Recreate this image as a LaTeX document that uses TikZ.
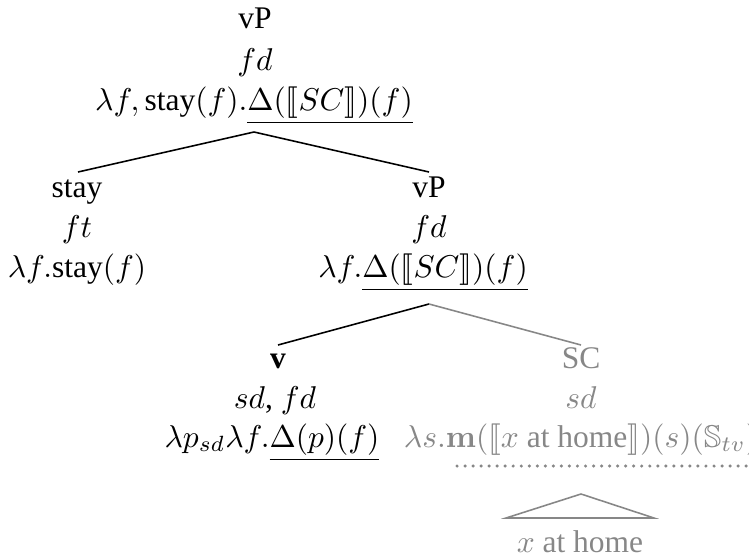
\documentclass[tikz,border=0pt]{standalone}
\usepackage{amsmath}
\usepackage{amssymb}
\usepackage{stmaryrd}
\usepackage[no-math]{fontspec}
\setmainfont{Liberation Serif}
\definecolor{scgray}{RGB}{135,135,135}
\begin{document}
\begin{tikzpicture}[x=0.3175pt,y=-0.3175pt,
  lbl/.style={inner sep=0pt, anchor=base},
  edge/.style={line width=0.5pt},
  gedge/.style={line width=0.5pt, draw=scgray},
  gtext/.style={lbl, text=scgray}]
\useasboundingbox (0,0) rectangle (749,557);
% top vP
\node[lbl] (t1) at (255,29) {vP};
\node[lbl] (t2) at (255,70) {$fd$};
\node[lbl] (t3) at (254,110) {$\lambda f, \text{stay}(f).\underline{\Delta(\llbracket SC\rrbracket)(f)}$};
\coordinate (tA) at (254,132);
% stay
\node[lbl] (s1) at (77,197) {stay};
\node[lbl] (s2) at (77,237) {$ft$};
\node[lbl] (s3) at (77,277) {$\lambda f.\text{stay}(f)$};
\coordinate (sT) at (78,172);
% vP right
\node[lbl] (r1) at (429,197) {vP};
\node[lbl] (r2) at (429,237) {$fd$};
\node[lbl] (r3) at (423,277) {$\lambda f.\underline{\Delta(\llbracket SC\rrbracket)(f)}$};
\coordinate (rT) at (429,172);
\coordinate (rA) at (429,304);
% v
\node[lbl] (v1) at (278,368) {\textbf{v}};
\node[lbl] (v2) at (275,408) {$sd$, $fd$};
\node[lbl] (v3) at (272,447) {$\lambda p_{sd}\lambda f.\underline{\Delta(p)(f)}$};
\coordinate (vT) at (278,345);
% SC
\node[gtext] (c1) at (581,368) {SC};
\node[gtext] (c2) at (581,408) {$sd$};
\node[gtext] (c3) at (581,447) {$\lambda s.\mathbf{m}(\llbracket x\text{ at home}\rrbracket)(s)(\mathbb{S}_{tv})$};
\coordinate (cT) at (581,345);
\coordinate (dL) at (457,466);
\coordinate (dR) at (752,466);
% triangle
\coordinate (triA) at (581,494);
\coordinate (triL) at (506,518);
\coordinate (triR) at (654,518);
\node[gtext] (x1) at (580,552) {$x$ at home};
% edges
\draw[edge] (sT) -- (tA) -- (rT);
\draw[edge] (vT) -- (rA);
\draw[gedge] (rA) -- (cT);
\draw[gedge] (triL) -- (triA) -- (triR) -- cycle;
\draw[scgray, line width=1.1pt, line cap=round, dash pattern=on 0pt off 2.55pt] (dL) -- (dR);
\end{tikzpicture}
\end{document}
